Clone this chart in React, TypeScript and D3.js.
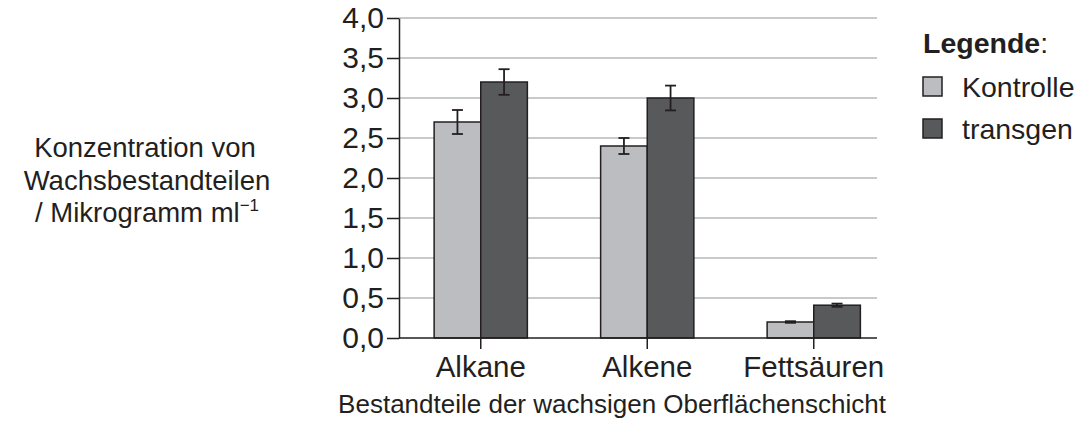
import React, { useEffect, useRef } from "react";
import * as d3 from "d3";

const WIDTH = 1083;
const HEIGHT = 434;
const PLOT = { left: 399, right: 877, top: 18, bottom: 338 };
const FONT = "'Liberation Sans', Arial, Helvetica, sans-serif";
const INK = "#231f20";

const categories = ["Alkane", "Alkene", "Fettsäuren"];
const series = ["Kontrolle", "transgen"];
const kontrolle = [2.7, 2.4, 0.2];
const transgen = [3.2, 3.0, 0.41];
const kontrolleErr = [0.15, 0.1, 0.01];
const transgenErr = [0.16, 0.155, 0.02];
const yTicks = [0, 0.5, 1, 1.5, 2, 2.5, 3, 3.5, 4];
const colors = ["#bcbdc0", "#58595b"];

const deLocale = d3.formatLocale({
  decimal: ",",
  thousands: ".",
  grouping: [3],
  currency: ["", " €"],
});
const fmt = deLocale.format(".1f");

export default function App() {
  const yAxisRef = useRef<SVGGElement>(null);
  const xAxisRef = useRef<SVGGElement>(null);

  const y = d3.scaleLinear().domain([0, 4]).range([PLOT.bottom, PLOT.top]);
  const x0 = d3
    .scaleBand<string>()
    .domain(categories)
    .range([PLOT.left - 1.5, PLOT.left - 1.5 + 3 * 166.5])
    .paddingInner(0.44)
    .paddingOuter(0.22);
  const x1 = d3
    .scaleBand<string>()
    .domain(series)
    .range([0, x0.bandwidth()]);

  const values = [kontrolle, transgen];
  const errs = [kontrolleErr, transgenErr];

  useEffect(() => {
    const yg = d3.select(yAxisRef.current);
    yg.selectAll("*").remove();
    yg.call(
      d3
        .axisLeft(y)
        .tickValues(yTicks)
        .tickSize(12)
        .tickSizeOuter(0)
        .tickPadding(3)
        .tickFormat((d) => fmt(d as number))
    );
    yg.selectAll("path, line").attr("stroke", INK).attr("stroke-width", 1.5);
    yg.selectAll("text")
      .attr("fill", INK)
      .attr("font-size", 30)
      .attr("font-family", FONT);

    const xg = d3.select(xAxisRef.current);
    xg.selectAll("*").remove();
    xg.call(
      d3
        .axisBottom(x0)
        .tickSize(11)
        .tickSizeOuter(0)
        .tickPadding(7)
    );
    xg.select(".domain").remove();
    xg.selectAll("line").attr("stroke", INK).attr("stroke-width", 1.5);
    xg.selectAll("text")
      .attr("fill", INK)
      .attr("font-size", 29.5)
      .attr("font-family", FONT);
  }, []);

  return (
    <svg
      width={WIDTH}
      height={HEIGHT}
      style={{ position: "absolute", left: 0, top: 0, background: "#fff" }}
      fontFamily={FONT}
    >
      {/* gridlines */}
      {yTicks
        .filter((t) => t > 0)
        .map((t) => (
          <line
            key={t}
            x1={PLOT.left}
            x2={PLOT.right}
            y1={y(t)}
            y2={y(t)}
            stroke="#c8c9cb"
            strokeWidth={2}
          />
        ))}

      {/* bars */}
      {categories.map((c, i) => (
        <g key={c} transform={`translate(${x0(c)},0)`}>
          {series.map((s, j) => (
            <rect
              key={s}
              x={x1(s)}
              y={y(values[j][i])}
              width={x1.bandwidth()}
              height={y(0) - y(values[j][i])}
              fill={colors[j]}
              stroke={INK}
              strokeWidth={1.5}
            />
          ))}
          {series.map((s, j) => {
            const cx = (x1(s) as number) + x1.bandwidth() / 2;
            const hi = y(values[j][i] + errs[j][i]);
            const lo = y(values[j][i] - errs[j][i]);
            return (
              <g key={s} stroke={INK} strokeWidth={1.8}>
                <line x1={cx} x2={cx} y1={hi} y2={lo} />
                <line x1={cx - 5.5} x2={cx + 5.5} y1={hi} y2={hi} />
                <line x1={cx - 5.5} x2={cx + 5.5} y1={lo} y2={lo} />
              </g>
            );
          })}
        </g>
      ))}

      {/* x axis line */}
      <line
        x1={PLOT.left}
        x2={PLOT.right}
        y1={y(0)}
        y2={y(0)}
        stroke={INK}
        strokeWidth={1.5}
      />
      <g ref={xAxisRef} transform={`translate(0,${PLOT.bottom})`} />
      <g ref={yAxisRef} transform={`translate(${PLOT.left},0)`} />

      {/* axis titles */}
      <text x={612} y={413} textAnchor="middle" fontSize={26} fill={INK}>
        Bestandteile der wachsigen Oberflächenschicht
      </text>
      <g fontSize={27.5} fill={INK} textAnchor="middle">
        <text x={145} y={157}>Konzentration von</text>
        <text x={147} y={190}>Wachsbestandteilen</text>
        <text x={147} y={222}>
          / Mikrogramm ml
          <tspan fontSize={17} dy={-11}>
            −1
          </tspan>
        </text>
      </g>

      {/* legend */}
      <g fill={INK} fontSize={28.5}>
        <text x={923} y={53}>
          <tspan fontWeight="bold">Legende</tspan>:
        </text>
        {series.map((s, j) => (
          <g key={s} transform={`translate(923,${77 + j * 42})`}>
            <rect
              width={19}
              height={19}
              fill={colors[j]}
              stroke={INK}
              strokeWidth={1.5}
            />
            <text x={39} y={20}>
              {s}
            </text>
          </g>
        ))}
      </g>
    </svg>
  );
}
